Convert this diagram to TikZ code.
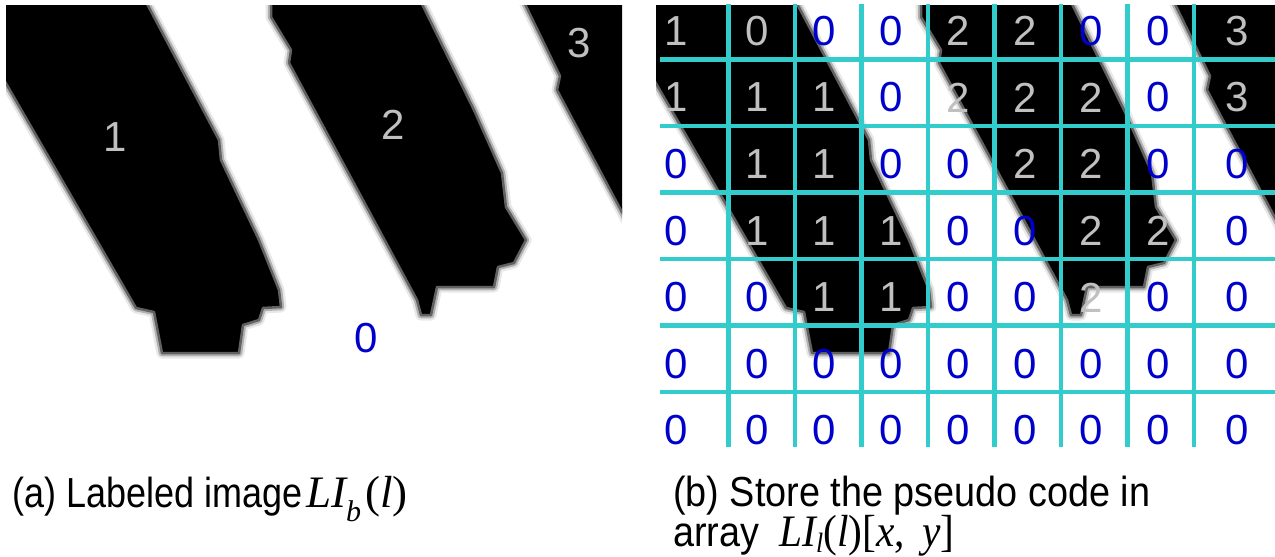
\documentclass[tikz,border=0pt]{standalone}
\usepackage{fontspec}
\setmainfont{Liberation Sans}
\newfontfamily\tnr{Liberation Serif}
\usepackage{graphicx}
\definecolor{gridc}{RGB}{51,204,204}
\definecolor{lblue}{RGB}{0,0,204}
\definecolor{lgray}{RGB}{192,192,192}
\newsavebox\fitbox
\newcommand\fitw[2]{\sbox\fitbox{#2}\pgfmathsetmacro\fitfac{#1/\the\wd\fitbox}\xdef\lastfac{\fitfac}\scalebox{\fitfac}[1]{\usebox\fitbox}}
\newcommand\drawstripes{%
  \path[blurA,stripeone]; \path[blurA,stripetwo]; \path[blurA,stripethree];
  \path[blurB,stripeone]; \path[blurB,stripetwo]; \path[blurB,stripethree];
  \path[blurC,stripeone]; \path[blurC,stripetwo]; \path[blurC,stripethree];
}
\begin{document}
\begin{tikzpicture}[x=1pt,y=-1pt,
  stripeone/.style={insert path={(0,0) -- (145,0) -- (219,140) -- (221,160) -- (259,240) -- (279,290) -- (281,307) -- (263,308) -- (259,320) -- (243,325) -- (239,353) -- (162,353) -- (154,312) -- (136,308) -- (0,73) -- cycle}},
  stripetwo/.style={insert path={(271,0) -- (420,0) -- (474,110) -- (502,173) -- (506,207) -- (526,240) -- (514,263) -- (498,267) -- (494,287) -- (437,287) -- (431,315) -- (421,315) -- (417,300) -- (289,63) -- (291,50) -- (271,17) -- cycle}},
  stripethree/.style={insert path={(523,0) -- (640,0) -- (640,246) -- (557,90) -- (560,76) -- cycle}},
  blurA/.style={draw=black!9, line width=11pt, line join=round},
  blurB/.style={draw=black!30, line width=6.5pt, line join=round},
  blurC/.style={fill=black, draw=black!62, line width=2.5pt, line join=round},
  digit/.style={font=\fontsize{42}{42}\selectfont, inner sep=0pt},
  gridline/.style={draw=gridc, line width=4.5pt},
  caption/.style={anchor=base west, inner sep=0pt, font=\fontsize{42}{42}\selectfont},
]
\useasboundingbox (0,0) rectangle (1275,557);
\fill[white] (0,0) rectangle (1275,557);

% left panel
\begin{scope}
  \clip (6,5) rectangle (622,460);
  \drawstripes
\end{scope}
\node[digit, text=lgray] (la1) at (115,137) {1};
\node[digit, text=lgray] (la2) at (393,125) {2};
\node[digit, text=lgray] (la3) at (579,43) {3};
\node[digit, text=lblue] (la0) at (366,338) {0};

% right panel
\begin{scope}
  \clip (656,5) rectangle (1275,460);
  \begin{scope}[xshift=650pt]
    \drawstripes
  \end{scope}
\end{scope}
\foreach \x in {728.5,795,861.5,928,994.5,1061,1127.5,1194}
  \draw[gridline] (\x,4) -- (\x,447);
\foreach \y in {59.5,126,192.5,259,325.5,392}
  \draw[gridline] (660,\y) -- (1275,\y);

\foreach \x/\v/\c [count=\i] in {676/1/lgray,757/0/lgray,824/0/lblue,891/0/lblue,958/2/lgray,1025/2/lgray,1091/0/lblue,1158/0/lblue,1237/3/lgray}
  \node[digit, text=\c] (ra\i) at (\x,31) {\v};
\foreach \x/\v/\c [count=\i] in {676/1/lgray,757/1/lgray,824/1/lgray,891/0/lblue,958/2/lgray,1025/2/lgray,1091/2/lgray,1158/0/lblue,1237/3/lgray}
  \node[digit, text=\c] (rb\i) at (\x,97.5) {\v};
\foreach \x/\v/\c [count=\i] in {676/0/lblue,757/1/lgray,824/1/lgray,891/0/lblue,958/0/lblue,1025/2/lgray,1091/2/lgray,1158/0/lblue,1237/0/lblue}
  \node[digit, text=\c] (rc\i) at (\x,164) {\v};
\foreach \x/\v/\c [count=\i] in {676/0/lblue,757/1/lgray,824/1/lgray,891/1/lgray,958/0/lblue,1025/0/lblue,1091/2/lgray,1158/2/lgray,1237/0/lblue}
  \node[digit, text=\c] (rd\i) at (\x,231) {\v};
\foreach \x/\v/\c [count=\i] in {676/0/lblue,757/0/lblue,824/1/lgray,891/1/lgray,958/0/lblue,1025/0/lblue,1091/2/lgray,1158/0/lblue,1237/0/lblue}
  \node[digit, text=\c] (re\i) at (\x,297.5) {\v};
\foreach \x [count=\i] in {676,757,824,891,958,1025,1091,1158,1237}
  \node[digit, text=lblue] (rf\i) at (\x,364) {0};
\foreach \x [count=\i] in {676,757,824,891,958,1025,1091,1158,1237}
  \node[digit, text=lblue] (rg\i) at (\x,430.5) {0};

% captions
\node[caption] (capa) at (12,507) {\fitw{290}{(a) Labeled image}\kern4pt{\fontsize{45}{45}\selectfont\tnr\itshape LI}\raisebox{-14pt}{\fontsize{30}{30}\selectfont\tnr\itshape b}\kern4pt{\fontsize{45}{45}\selectfont\tnr(\itshape l\/\upshape)}};
\node[caption] (capb1) at (673,506) {\fitw{477}{(b) Store the pseudo code in}};
\node[caption] (capb2) at (673,546) {\scalebox{\lastfac}[1]{array}\hspace{20pt}\scalebox{0.92}[1]{{\fontsize{45}{45}\selectfont\tnr\itshape LI}\raisebox{-6pt}{\fontsize{28}{28}\selectfont\tnr\itshape l}{\fontsize{45}{45}\selectfont\tnr(\itshape l\/\upshape)[\itshape x\upshape,\, \itshape y\upshape]}}};
\end{tikzpicture}
\end{document}
